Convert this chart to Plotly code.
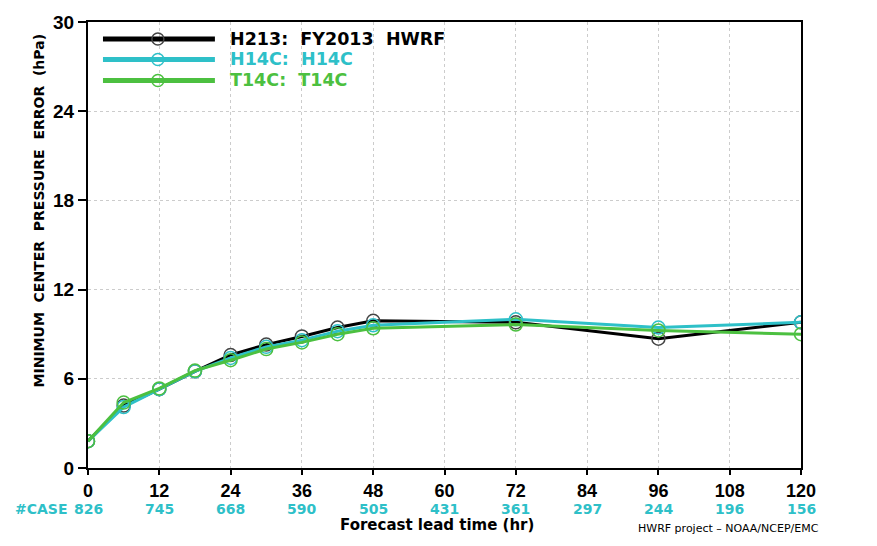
import plotly.graph_objects as go

hours = [0, 6, 12, 18, 24, 30, 36, 42, 48, 72, 96, 120]
h213 = [1.8, 4.2, 5.3, 6.5, 7.6, 8.3, 8.85, 9.45, 9.9, 9.8, 8.7, 9.8]
h14c = [1.8, 4.1, 5.3, 6.5, 7.4, 8.15, 8.6, 9.2, 9.6, 10.0, 9.45, 9.8]
t14c = [1.8, 4.4, 5.35, 6.55, 7.25, 8.0, 8.45, 9.0, 9.4, 9.65, 9.25, 9.0]

case_hours = [0, 12, 24, 36, 48, 60, 72, 84, 96, 108, 120]
case_counts = [826, 745, 668, 590, 505, 431, 361, 297, 244, 196, 156]

series_names = ["H213: FY2013 HWRF", "H14C: H14C", "T14C: T14C"]
series_colors = ["#000000", "#2ec0c8", "#4cc040"]
marker_colors = ["#444444", "#2ec0c8", "#4cc040"]
series_values = [h213, h14c, t14c]

TICKFONT = "Liberation Sans, Arial"
WIDEFONT = "DejaVu Sans, Arial"

fig = go.Figure()
for name, col, mcol, vals in zip(series_names, series_colors, marker_colors, series_values):
    fig.add_trace(go.Scatter(
        x=hours, y=vals, mode="lines+markers", name=name,
        line=dict(color=col, width=3),
        marker=dict(symbol="circle-open", size=13, color=mcol, line=dict(width=1.5, color=mcol)),
        showlegend=False,
    ))

# custom legend
leg_y = [0.962, 0.916, 0.869]
for name, col, mcol, yy in zip(series_names, series_colors, marker_colors, leg_y):
    fig.add_shape(type="line", xref="paper", yref="paper", x0=0.021, x1=0.178, y0=yy, y1=yy,
                  line=dict(color=col, width=5))
    fig.add_shape(type="circle", xref="paper", yref="paper", xsizemode="pixel", ysizemode="pixel",
                  xanchor=0.098, yanchor=yy, x0=-6, x1=6, y0=-6, y1=6,
                  line=dict(color=mcol, width=1.5))
    fig.add_annotation(x=0.196, y=yy, xref="paper", yref="paper", xanchor="left", yanchor="middle",
                       text="<b>" + name.replace(" ", "&nbsp;&nbsp;") + "</b>", showarrow=False,
                       font=dict(family=WIDEFONT, size=17.5, color=col))

# case counts
for h, c in zip(case_hours, case_counts):
    fig.add_annotation(x=h, y=0, xref="x", yref="paper", yshift=-41, yanchor="middle",
                       text="<b>%d</b>" % c, showarrow=False,
                       font=dict(family=WIDEFONT, size=14, color="#2ec0c8"))
fig.add_annotation(x=-0.025, y=0, xref="paper", yref="paper", yshift=-41, xanchor="right", yanchor="middle",
                   text="<b>#CASE</b>", showarrow=False, font=dict(family=WIDEFONT, size=14, color="#2ec0c8"))

fig.add_annotation(x=0.49, y=0, xref="paper", yref="paper", yshift=-57, yanchor="middle",
                   text="<b>Forecast lead time (hr)</b>", showarrow=False,
                   font=dict(family=WIDEFONT, size=15, color="black"))
fig.add_annotation(x=1.028, y=0, xref="paper", yref="paper", yshift=-60, xanchor="right", yanchor="middle",
                   text="HWRF project – NOAA/NCEP/EMC", showarrow=False,
                   font=dict(family=WIDEFONT, size=11, color="black"))

# y-axis title (placed as in reference, above centre)
fig.add_annotation(x=-0.069, y=0.577, xref="paper", yref="paper", textangle=-90,
                   xanchor="center", yanchor="middle", showarrow=False,
                   text="<b>MINIMUM&nbsp;&nbsp;CENTER&nbsp;&nbsp;PRESSURE&nbsp;&nbsp;ERROR&nbsp;&nbsp;(hPa)</b>",
                   font=dict(family=WIDEFONT, size=14, color="black"))

fig.update_xaxes(range=[0, 120], tickvals=case_hours, ticktext=["<b>%d</b>" % h for h in case_hours],
                 showgrid=True, gridcolor="#cccccc", griddash="dot", gridwidth=1,
                 showline=True, linecolor="black", linewidth=2, mirror=True,
                 ticks="outside", ticklen=5, tickwidth=2, tickcolor="black",
                 tickfont=dict(family=TICKFONT, size=18, color="black"), zeroline=False)
fig.update_yaxes(range=[0, 30], tickvals=[0, 6, 12, 18, 24, 30],
                 ticktext=["<b>%d</b>" % v for v in [0, 6, 12, 18, 24, 30]],
                 showgrid=True, gridcolor="#cccccc", griddash="dot", gridwidth=1,
                 showline=True, linecolor="black", linewidth=2, mirror=True,
                 ticks="outside", ticklen=8, tickwidth=2, tickcolor="black",
                 tickfont=dict(family=TICKFONT, size=19, color="black"), zeroline=False)

fig.update_layout(width=877, height=546, margin=dict(l=88, r=76, t=16, b=78),
                  plot_bgcolor="white", paper_bgcolor="white")
fig.write_html("out.html")
